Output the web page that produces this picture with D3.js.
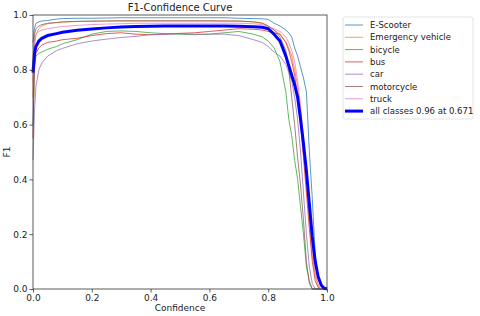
<!DOCTYPE html>
<html><head><meta charset="utf-8">
<script src="https://cdn.jsdelivr.net/npm/d3@7"></script>
<style>body{margin:0;background:#fff}svg{display:block;font-family:"DejaVu Sans",sans-serif}</style>
</head><body><svg id="c" width="480" height="316"></svg>
<script>
const conf = [0,0.005,0.01,0.02,0.03,0.05,0.08,0.1,0.15,0.2,0.25,0.3,0.35,0.4,0.45,0.5,0.55,0.6,0.65,0.7,0.75,0.78,0.8,0.82,0.84,0.86,0.87,0.88,0.89,0.9,0.91,0.92,0.93,0.94,0.95,0.96,0.97,0.98,0.99,1.0];
const classNames = ["E-Scooter","Emergency vehicle","bicycle","bus","car","motorcycle","truck"];
const eScooter = [0.90,0.95,0.97,0.975,0.978,0.98,0.985,0.987,0.988,0.988,0.989,0.99,0.99,0.99,0.99,0.99,0.99,0.99,0.99,0.988,0.987,0.986,0.984,0.97,0.96,0.945,0.935,0.92,0.88,0.85,0.81,0.77,0.72,0.5,0.33,0.12,0.04,0.01,0.002,0];
const emergency = [0.7,0.88,0.93,0.95,0.96,0.968,0.972,0.974,0.976,0.977,0.978,0.978,0.978,0.978,0.978,0.978,0.978,0.978,0.978,0.978,0.975,0.97,0.96,0.945,0.93,0.9,0.88,0.85,0.8,0.74,0.65,0.52,0.38,0.25,0.12,0.05,0.01,0,0,0];
const bicycle = [0.6,0.8,0.85,0.86,0.865,0.875,0.885,0.895,0.91,0.93,0.94,0.942,0.94,0.935,0.932,0.93,0.928,0.93,0.935,0.94,0.93,0.92,0.905,0.88,0.83,0.72,0.62,0.56,0.47,0.4,0.3,0.2,0.08,0.03,0,0,0,0,0,0];
const bus = [0.55,0.82,0.86,0.88,0.89,0.9,0.905,0.91,0.915,0.925,0.932,0.935,0.93,0.928,0.93,0.933,0.935,0.94,0.945,0.95,0.948,0.945,0.94,0.935,0.93,0.9,0.87,0.83,0.78,0.7,0.6,0.48,0.35,0.22,0.1,0.03,0.005,0,0,0];
const car = [0.47,0.65,0.74,0.8,0.825,0.85,0.87,0.878,0.895,0.905,0.912,0.918,0.922,0.928,0.93,0.932,0.93,0.93,0.93,0.925,0.91,0.9,0.885,0.865,0.85,0.82,0.79,0.76,0.7,0.62,0.5,0.35,0.2,0.08,0.02,0,0,0,0,0];
const motorcycle = [0.8,0.93,0.95,0.96,0.965,0.97,0.973,0.975,0.977,0.978,0.978,0.979,0.979,0.979,0.979,0.979,0.979,0.979,0.978,0.978,0.975,0.97,0.96,0.945,0.92,0.87,0.8,0.7,0.6,0.48,0.38,0.25,0.1,0.02,0,0,0,0,0,0];
const truck = [0.75,0.9,0.93,0.94,0.945,0.95,0.955,0.958,0.962,0.965,0.967,0.968,0.97,0.97,0.97,0.97,0.97,0.97,0.97,0.97,0.968,0.965,0.958,0.95,0.94,0.92,0.9,0.87,0.83,0.76,0.67,0.55,0.42,0.28,0.15,0.06,0.015,0,0,0];
const allClasses = [0.79,0.86,0.885,0.905,0.915,0.925,0.932,0.937,0.944,0.949,0.953,0.956,0.958,0.959,0.96,0.96,0.96,0.96,0.96,0.959,0.957,0.955,0.95,0.93,0.905,0.85,0.815,0.78,0.745,0.7,0.62,0.53,0.43,0.31,0.19,0.1,0.045,0.015,0.003,0];
const classColors = ["#1f77b4","#ff7f0e","#2ca02c","#d62728","#9467bd","#8c564b","#e377c2"];
const allLabel = "all classes 0.96 at 0.671";
const ticks = [0,0.2,0.4,0.6,0.8,1.0];

const series = [eScooter,emergency,bicycle,bus,car,motorcycle,truck];
const svg = d3.select("#c");
const m = {l:33, r:327, t:15, b:289};
const x = d3.scaleLinear().domain([0,1]).range([m.l,m.r]);
const y = d3.scaleLinear().domain([0,1]).range([m.b,m.t]);

const line = d3.line().x((d,i)=>x(conf[i])).y(d=>y(d));
const g = svg.append("g");
series.forEach((s,k)=>{
  g.append("path").attr("d",line(s)).attr("fill","none")
   .attr("stroke",classColors[k]).attr("stroke-width",1).attr("stroke-opacity",0.75);
});
g.append("path").attr("d",line(allClasses)).attr("fill","none").attr("stroke","blue").attr("stroke-width",3);

svg.append("rect").attr("x",m.l).attr("y",m.t).attr("width",m.r-m.l).attr("height",m.b-m.t)
  .attr("fill","none").attr("stroke","#333").attr("stroke-width",0.8);

const fmt = d3.format(".1f");
const xa = svg.append("g").attr("transform",`translate(0,${m.b})`)
  .call(d3.axisBottom(x).tickValues(ticks).tickFormat(fmt).tickSize(3.5).tickPadding(2));
const ya = svg.append("g").attr("transform",`translate(${m.l},0)`)
  .call(d3.axisLeft(y).tickValues(ticks).tickFormat(fmt).tickSize(3.5).tickPadding(2));
[xa,ya].forEach(a=>{
  a.select(".domain").remove();
  a.selectAll("line").attr("stroke","#333").attr("stroke-width",0.8);
  a.selectAll("text").attr("font-size",9).attr("fill","#222").attr("font-family","DejaVu Sans");
});

svg.append("text").attr("x",(m.l+m.r)/2).attr("y",11).attr("text-anchor","middle")
  .attr("font-size",10).attr("fill","#222").text("F1-Confidence Curve");
svg.append("text").attr("x",(m.l+m.r)/2).attr("y",311).attr("text-anchor","middle")
  .attr("font-size",9).attr("fill","#222").text("Confidence");
svg.append("text").attr("transform",`translate(10,${(m.t+m.b)/2}) rotate(-90)`).attr("text-anchor","middle")
  .attr("font-size",9).attr("fill","#222").text("F1");

const lg = svg.append("g");
lg.append("rect").attr("x",343).attr("y",17).attr("width",130).attr("height",102).attr("rx",2)
  .attr("fill","#fff").attr("stroke","#ddd").attr("stroke-width",0.8);
const names = classNames.concat([allLabel]);
const cols = classColors.concat(["blue"]);
names.forEach((n,i)=>{
  const yy = 25 + i*12.3;
  lg.append("line").attr("x1",345).attr("x2",363).attr("y1",yy).attr("y2",yy)
    .attr("stroke",cols[i]).attr("stroke-width",i===7?3:1).attr("stroke-opacity",i===7?1:0.75);
  lg.append("text").attr("x",370).attr("y",yy+3).attr("font-size",8.5).attr("fill","#222").text(n);
});
</script></body></html>
